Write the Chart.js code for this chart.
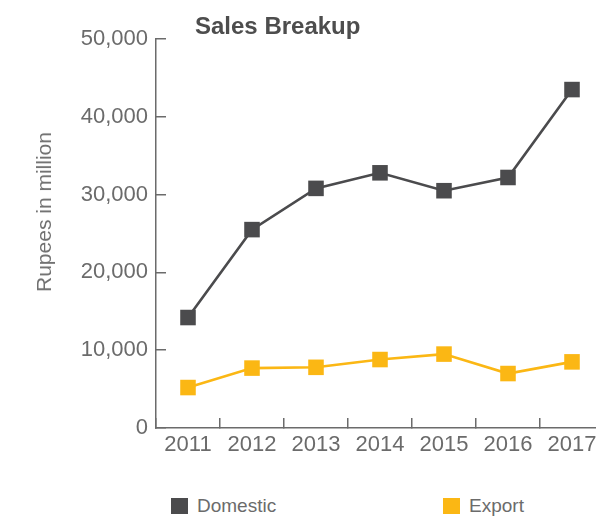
<!DOCTYPE html>
<html>
<head>
<meta charset="utf-8">
<script src="https://cdn.jsdelivr.net/npm/chart.js@4/dist/chart.umd.min.js"></script>
<style>
  html, body { margin: 0; padding: 0; background: #fff; }
  #wrap { position: relative; width: 596px; height: 520px; overflow: hidden; font-family: "Liberation Sans", Arial, sans-serif; }
  #chart { position: absolute; left: 0; top: 0; }
  #title { position: absolute; left: 195px; top: 12px; font-size: 24px; font-weight: bold; color: #4d4d4d; white-space: nowrap; }
  #ylabel { position: absolute; left: 44px; top: 212px; font-size: 21px; color: #707070; white-space: nowrap;
            transform: translate(-50%, -50%) rotate(-90deg); }
  .legend { position: absolute; top: 496px; font-size: 19px; color: #6b6b6b; white-space: nowrap; line-height: 20px; }
  .legend span { display: inline-block; width: 17px; height: 16px; vertical-align: -2px; margin-right: 9px; }
</style>
</head>
<body>
<div id="wrap">
  <canvas id="chart" width="604" height="470"></canvas>
  <div id="title">Sales Breakup</div>
  <div id="ylabel">Rupees in million</div>
  <div class="legend" style="left:171px"><span style="background:#4b4b4d"></span>Domestic</div>
  <div class="legend" style="left:443px"><span style="background:#fbb714"></span>Export</div>
</div>
<script>
const years = ["2011", "2012", "2013", "2014", "2015", "2016", "2017"];
const domestic = [14200, 25500, 30800, 32800, 30500, 32200, 43500];
const exportSales = [5200, 7700, 7800, 8800, 9500, 7000, 8500];
const yTicks = [0, 10000, 20000, 30000, 40000, 50000];

const axisColor = "#6b6b6b";
const labelFont = { family: "'Liberation Sans', Arial, sans-serif", size: 22 };

function series(label, data, color) {
  return {
    label,
    data,
    borderColor: color,
    backgroundColor: color,
    borderWidth: 2.6,
    tension: 0,
    pointStyle: "rect",
    pointRadius: 11,
    pointHoverRadius: 11,
    pointBorderWidth: 0,
    pointBackgroundColor: color,
  };
}

new Chart(document.getElementById("chart"), {
  type: "line",
  data: {
    labels: years,
    datasets: [
      series("Domestic", domestic, "#4b4b4d"),
      series("Export", exportSales, "#fbb714"),
    ],
  },
  options: {
    responsive: false,
    devicePixelRatio: 1,
    animation: false,
    layout: { autoPadding: false, padding: { top: 39, left: 0, right: 0, bottom: 0 } },
    plugins: {
      legend: { display: false },
      title: { display: false },
      tooltip: { enabled: false },
    },
    scales: {
      x: {
        type: "category",
        offset: true,
        grid: {
          offset: true,
          drawOnChartArea: false,
          drawTicks: true,
          tickLength: -10,
          color: axisColor,
          lineWidth: 1.5,
        },
        border: { color: axisColor, width: 1.5 },
        ticks: { color: axisColor, font: labelFont, padding: 14, maxRotation: 0, autoSkip: false },
        afterFit: (scale) => {
          scale.height = 42;
          scale.paddingLeft = 0;
          scale.paddingRight = 0;
        },
      },
      y: {
        min: 0,
        max: 50000,
        afterBuildTicks: (scale) => { scale.ticks = yTicks.map((v) => ({ value: v })); },
        grid: {
          drawOnChartArea: false,
          drawTicks: true,
          tickLength: -10,
          color: axisColor,
          lineWidth: 1.5,
        },
        border: { color: axisColor, width: 1.5 },
        ticks: {
          color: axisColor,
          font: labelFont,
          padding: 18,
          callback: (value) => Number(value).toLocaleString("en-US"),
        },
        afterFit: (scale) => { scale.width = 156; },
      },
    },
  },
});
</script>
</body>
</html>
